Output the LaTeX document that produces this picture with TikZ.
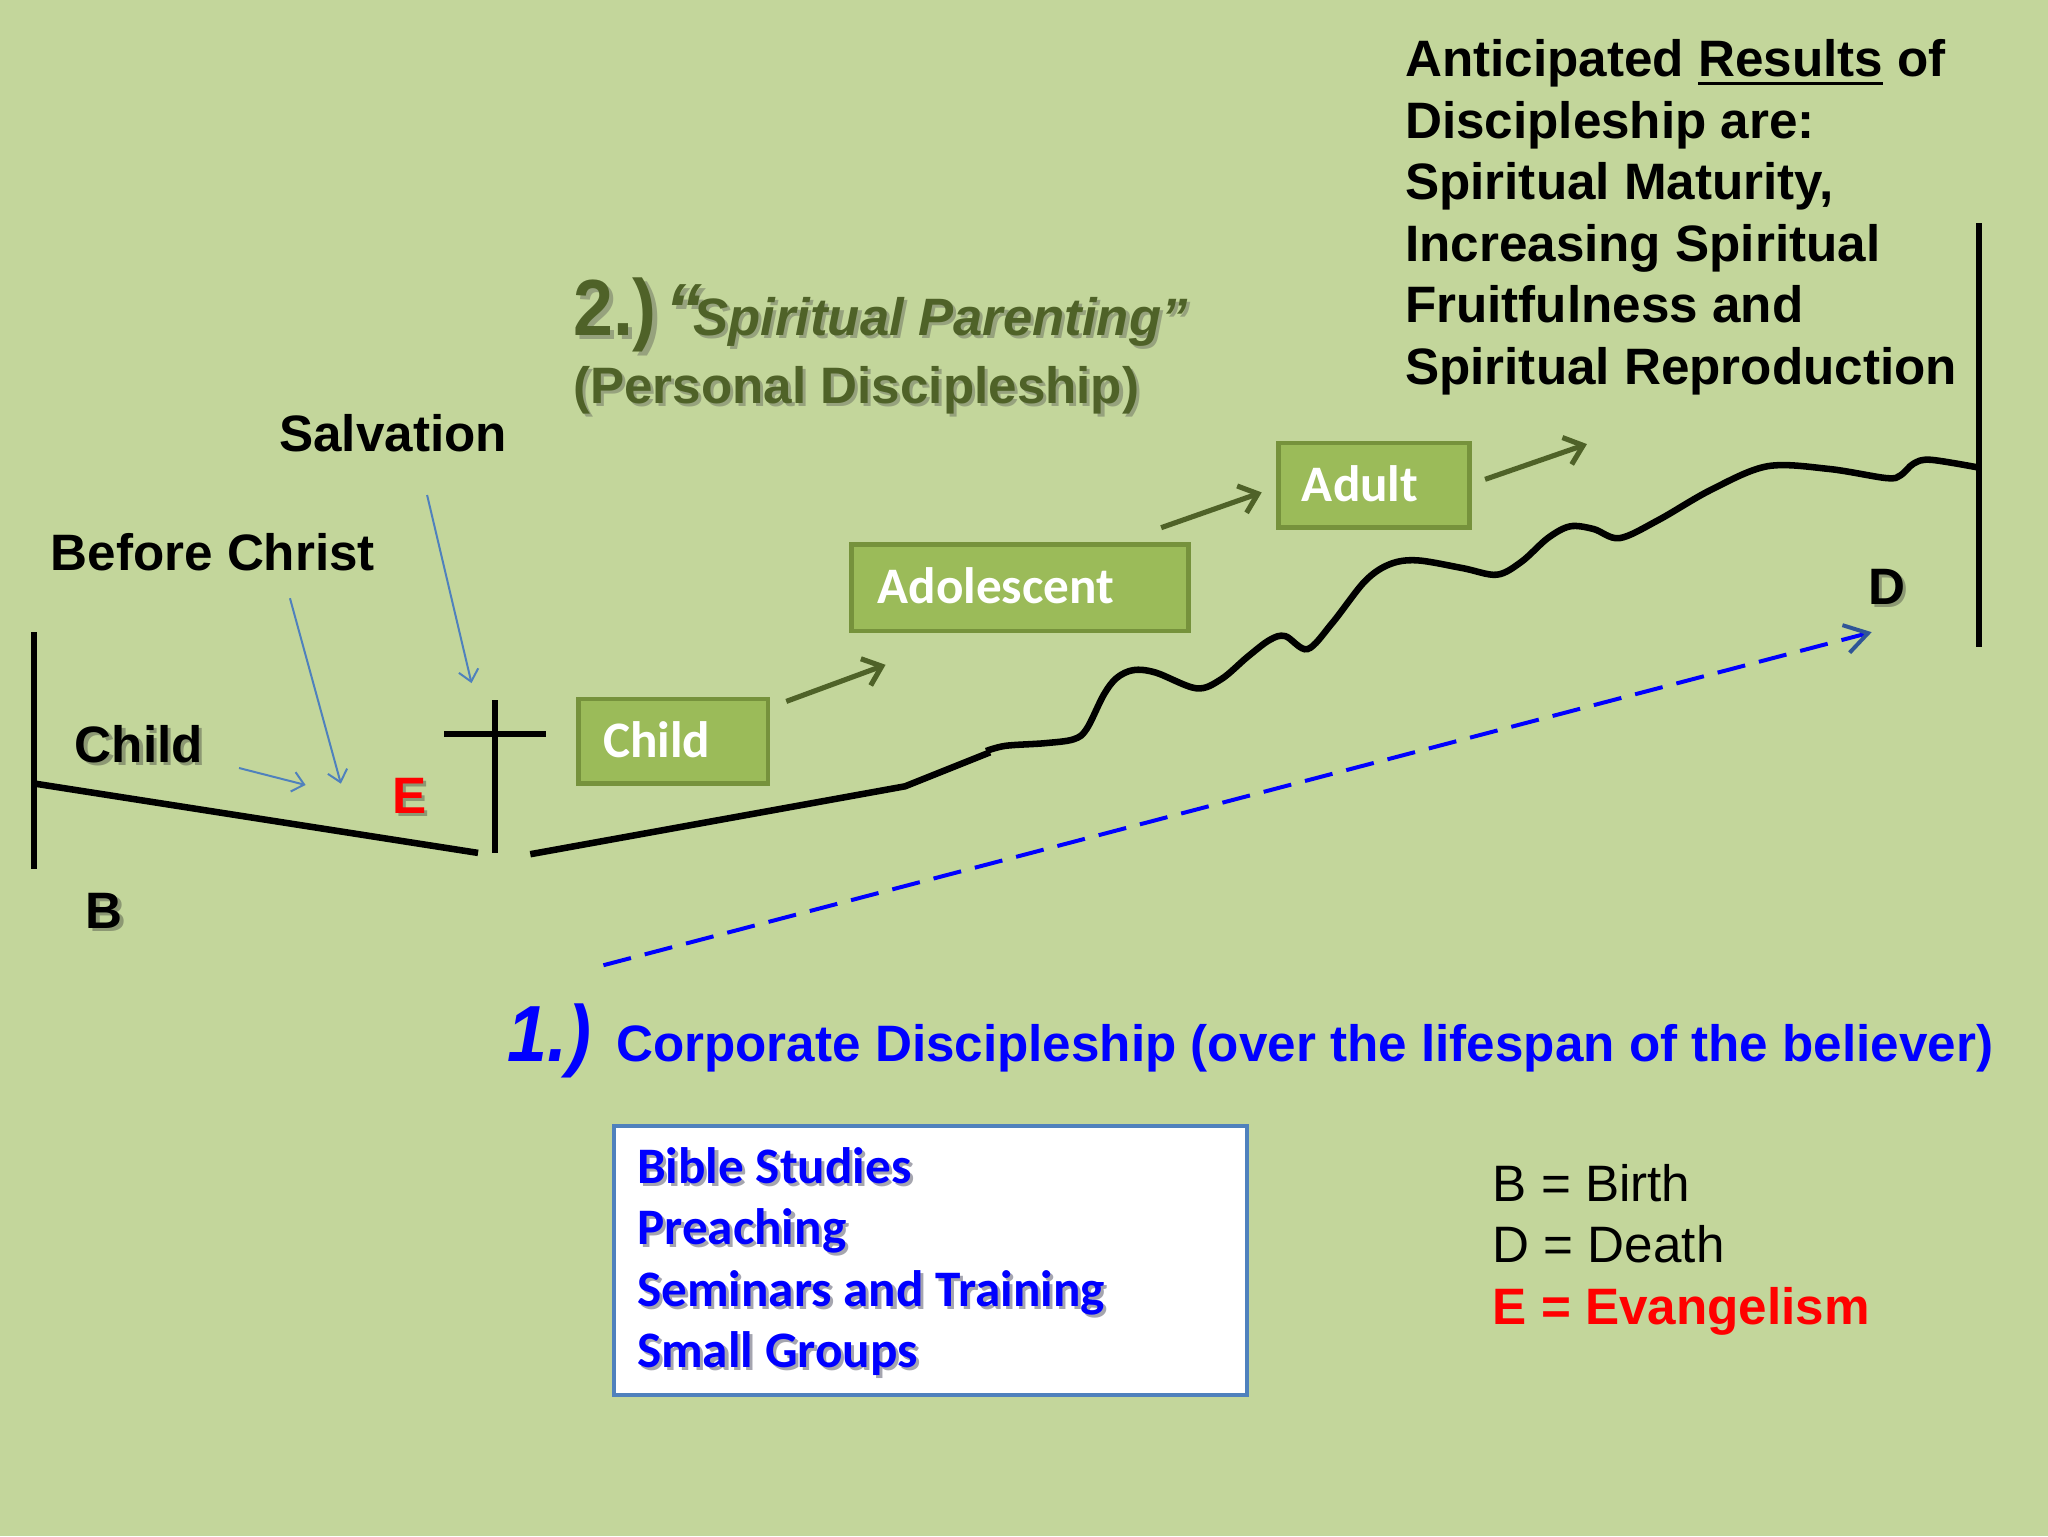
\documentclass[tikz,border=0pt]{standalone}
\usepackage{fontspec}
\setmainfont{Liberation Sans}
\newfontfamily\calibri{Carlito}
\newfontfamily\narrowsans[FakeStretch=0.9]{Liberation Sans}
\usetikzlibrary{arrows.meta}

\definecolor{slidegreen}{RGB}{195,214,155}
\definecolor{olivedark}{RGB}{79,98,40}
\definecolor{olivefill}{RGB}{155,187,89}
\definecolor{oliveline}{RGB}{118,146,60}
\definecolor{accentblue}{RGB}{79,129,189}
\definecolor{pureblue}{RGB}{0,0,255}
\definecolor{purered}{RGB}{255,0,0}
\definecolor{tipblue}{RGB}{47,85,151}
\definecolor{shadowgreen}{RGB}{140,152,115}
\definecolor{shadowolive}{RGB}{150,162,125}
\definecolor{shadowgrey}{RGB}{165,165,175}

\newcommand\shadowed[2][shadowgreen]{\leavevmode\rlap{\kern0.06em\raisebox{-0.06em}{\color{#1}#2}}#2}
\newcommand\thickline[1]{\setbox0\hbox{#1}\rlap{\rule[-3pt]{\wd0}{1.1pt}}\box0\relax}
\newcommand\sizeeighteen{\fontsize{18}{21.6}\selectfont}

\tikzset{every picture/.style={line width=0.75pt}}
\tikzset{
    lifeline/.style={draw=black, line width=2.3pt},
    agebox/.style={draw=oliveline, fill=olivefill, line width=1.6pt},
    agetext/.style={anchor=base west, inner sep=0pt, text=white, font=\calibri\bfseries\sizeeighteen},
    growth/.style={draw=olivedark, line width=1.8pt, -{Straight Barb[length=6pt,width=10pt]}},
    pointer/.style={draw=accentblue, line width=0.7pt, -{Straight Barb[length=4pt,width=7pt]}},
    slidetext/.style={anchor=base west, inner sep=0pt, font=\bfseries\sizeeighteen},
    corporate/.style={draw=pureblue, line width=1.4pt, dash pattern=on 10pt off 5pt, -{Straight Barb[color=tipblue,length=8pt,width=10pt]}},
    studybox/.style={draw=accentblue, fill=white, line width=1.4pt}}

\begin{document}
\begin{tikzpicture}[x=0.4592pt,y=0.4592pt,yscale=-1,xscale=1]
            %Slide
            \fill[slidegreen] (0,0) rectangle (1568,1176);
            \useasboundingbox (0,0) rectangle (1568,1176);

            %Results (base = last line)
            \node[slidetext, align=left] (results) at (1075,294) {Anticipated \thickline{Results} of\\Discipleship are:\\Spiritual Maturity,\\Increasing Spiritual\\Fruitfulness and\\Spiritual Reproduction};

            %Personal discipleship
            \node[slidetext, text=olivedark] (parenting) at (438,256.5) {{\narrowsans\fontsize{28}{32}\selectfont\shadowed[shadowolive]{2.)}}\kern3pt{\fontsize{26}{30}\selectfont\itshape\shadowed[shadowolive]{“}\kern-0.12em}{\fontsize{18.5}{22}\selectfont\itshape\shadowed[shadowolive]{Spiritual Parenting”}}};
            \node[slidetext, text=olivedark] (personal) at (438,308.7) {\shadowed[shadowolive]{(Personal Discipleship)}};

            %Labels
            \node[slidetext] (salvation) at (213,345.5) {Salvation};
            \node[slidetext] (beforechrist) at (38,437) {Before Christ};
            \node[slidetext] (childlabel) at (56.6,583.7) {\shadowed{Child}};
            \node[slidetext, text=purered] (evangel) at (300,623) {\shadowed{E}};
            \node[slidetext] (birth) at (65,710.6) {\shadowed{B}};
            \node[slidetext] (death) at (1430,463) {\shadowed{D}};

            %Pointers
            \coordinate (childtail) at (183,588);
            \coordinate (childtip) at (234,601);
            \coordinate (beforetail) at (222,458);
            \coordinate (beforetip) at (261,600);
            \coordinate (salvtail) at (327,379);
            \coordinate (salvtip) at (361,523);
            \draw[pointer] (childtail) -- (childtip);
            \draw[pointer] (beforetail) -- (beforetip);
            \draw[pointer] (salvtail) -- (salvtip);

            %Life line
            \draw[lifeline] (26,484) -- (26,665);
            \draw[lifeline] (27,600) -- (366,653);
            \draw[lifeline] (379,536) -- (379,653);
            \draw[lifeline] (340,562) -- (418,562);
            \draw[lifeline] (406,654) -- (693,602) -- (758,576);
            \draw[lifeline] plot[smooth, tension=0.55] coordinates {(755,575) (770,571) (800,569) (822,566) (832,558) (845,532) (855,519) (868,513) (885,515) (916,527) (935,520) (955,503) (972,490) (984,487) (1001,497) (1020,477) (1045,445) (1064,432) (1085,429) (1120,435) (1146,440) (1165,430) (1185,412) (1202,403) (1220,405) (1240,412) (1270,398) (1310,375) (1353,357) (1400,359) (1444,366) (1455,364) (1465,355) (1478,352) (1515,358)};
            \draw[lifeline, line width=2pt] (1515,171) -- (1515,495);

            %Age boxes
            \draw[agebox] (443,535) rectangle (588,600);
            \node[agetext] (child) at (461,580) {Child};
            \draw[agebox] (652,417) rectangle (910,483);
            \node[agetext] (adolescent) at (671,462) {Adolescent};
            \draw[agebox] (979,339) rectangle (1125,404);
            \node[agetext] (adult) at (996,384) {Adult};

            %Growth arrows
            \coordinate (childout) at (602,537);
            \coordinate (childend) at (678,509);
            \coordinate (adolout) at (889,404);
            \coordinate (adolend) at (966,377);
            \coordinate (adultout) at (1137,367);
            \coordinate (adultend) at (1215,340);
            \draw[growth] (childout) -- (childend);
            \draw[growth] (adolout) -- (adolend);
            \draw[growth] (adultout) -- (adultend);

            %Corporate discipleship
            \coordinate (corpstart) at (462,739);
            \coordinate (corpend) at (1433,484);
            \draw[corporate] (corpstart) -- (corpend);
            \node[slidetext, text=pureblue] (corpnum) at (388,813) {\narrowsans\itshape\fontsize{28}{32}\selectfont 1.)};
            \node[slidetext, text=pureblue] (corporate) at (471,813) {Corporate Discipleship (over the lifespan of the believer)};

            %Studies (base = last line)
            \draw[studybox] (470,862) rectangle (955,1068);
            \node[slidetext, align=left, text=pureblue, font=\calibri\bfseries\sizeeighteen] (studies) at (487,1047) {\shadowed[shadowgrey]{Bible Studies}\\\shadowed[shadowgrey]{Preaching}\\\shadowed[shadowgrey]{Seminars and Training}\\\shadowed[shadowgrey]{Small Groups}};

            %Legend (base = last line)
            \node[slidetext, align=left, font=\sizeeighteen] (legend) at (1142,1014) {B = Birth\\D = Death\\\textcolor{purered}{\bfseries E = Evangelism}};
\end{tikzpicture}
\end{document}
